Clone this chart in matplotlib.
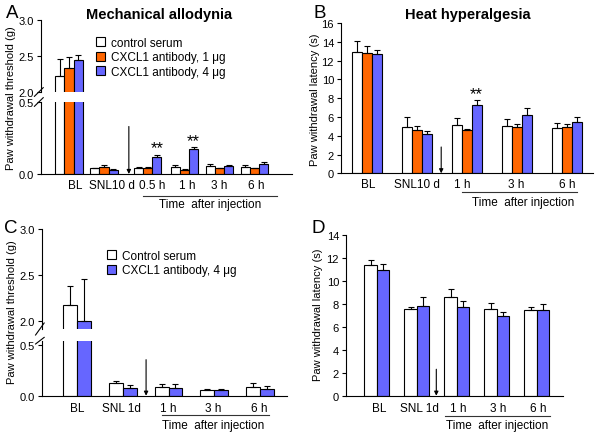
import numpy as np
import matplotlib
matplotlib.use("Agg")
import matplotlib.pyplot as plt

plt.rcParams['font.family'] = ['Liberation Sans', 'DejaVu Sans']
plt.rcParams['font.size'] = 8.5

W, H = 600, 435
WHITE, ORANGE, BLUE = 'white', '#FF6600', '#6666FF'

# ---- data ----
# A: mechanical allodynia (g)
a_groups = ['BL', 'SNL10 d', '0.5 h', '1 h', '3 h', '6 h']
a_ctrl = [2.22, 0.04, 0.04, 0.05, 0.055, 0.05]
a_ctrl_sem = [0.23, 0.005, 0.01, 0.01, 0.015, 0.01]
a_ab1 = [2.33, 0.05, 0.045, 0.03, 0.04, 0.04]
a_ab1_sem = [0.16, 0.01, 0.005, 0.005, 0.005, 0.005]
a_ab4 = [2.44, 0.03, 0.116, 0.171, 0.058, 0.068]
a_ab4_sem = [0.07, 0.004, 0.015, 0.014, 0.005, 0.012]

# B: heat hyperalgesia (s)
b_groups = ['BL', 'SNL10 d', '1 h', '3 h', '6 h']
b_ctrl = [12.9, 4.9, 5.1, 5.0, 4.85]
b_ctrl_sem = [1.2, 1.1, 0.75, 0.8, 0.5]
b_ab1 = [12.85, 4.6, 4.6, 4.95, 4.95]
b_ab1_sem = [0.75, 0.4, 0.15, 0.3, 0.35]
b_ab4 = [12.75, 4.15, 7.3, 6.25, 5.45]
b_ab4_sem = [0.4, 0.35, 0.45, 0.75, 0.5]

# C: mechanical, SNL 1d (g)
c_groups = ['BL', 'SNL 1d', '1 h', '3 h', '6 h']
c_ctrl = [2.175, 0.122, 0.086, 0.053, 0.086]
c_ctrl_sem = [0.2, 0.025, 0.025, 0.01, 0.035]
c_ab4 = [2.0, 0.076, 0.079, 0.059, 0.066]
c_ab4_sem = [0.46, 0.025, 0.04, 0.01, 0.03]

# D: heat, SNL 1d (s)
d_groups = ['BL', 'SNL 1d', '1 h', '3 h', '6 h']
d_ctrl = [11.35, 7.5, 8.6, 7.5, 7.45]
d_ctrl_sem = [0.45, 0.2, 0.7, 0.6, 0.3]
d_ab4 = [10.9, 7.8, 7.75, 6.9, 7.45]
d_ab4_sem = [0.55, 0.8, 0.45, 0.4, 0.55]


def rect(x0, ytop, x1, ybot):
    return [x0 / W, 1 - ybot / H, (x1 - x0) / W, (ybot - ytop) / H]


def ftext(x, y, s, **kw):
    fig.text(x / W, 1 - y / H, s, **kw)


def style(ax, bottom=True):
    for s in ['right', 'top', 'bottom']:
        ax.spines[s].set_visible(False)
    if bottom:
        ax.spines['bottom'].set_visible(True)
    ax.spines['left'].set_linewidth(0.8)
    ax.spines['bottom'].set_linewidth(0.8)
    ax.tick_params(axis='y', direction='out', length=3, width=0.8, pad=2, labelsize=8)
    ax.set_xticks([])


def bars(axs, pos, series, width):
    n = len(series)
    for k, (vals, sem, col) in enumerate(series):
        x = np.array(pos) + (k - (n - 1) / 2) * width
        for ax in axs:
            ax.bar(x, vals, width, color=col, edgecolor='black', linewidth=0.8, zorder=2)
            ax.errorbar(x, vals, yerr=[np.zeros(len(vals)), sem], fmt='none',
                        ecolor='black', elinewidth=0.8, capsize=2.4, capthick=0.8, zorder=3)


def break_marks(ax, y):
    d = 0.06
    ax.plot([-0.025, 0.01], [y - d, y + d], transform=ax.transAxes,
            color='black', lw=0.8, clip_on=False)


def group_labels(ax, pos, labels, ypix):
    for p, lab in zip(pos, labels):
        ax.annotate(lab, xy=(p, 1 - ypix / H), xycoords=('data', 'figure fraction'),
                    ha='center', va='center', annotation_clip=False)


def arrow(ax, x, ytop):
    ax.annotate('', xy=(x, 0), xytext=(x, ytop),
                arrowprops=dict(arrowstyle='-|>', color='black', lw=0.8,
                                mutation_scale=6, shrinkA=0, shrinkB=0), zorder=4)


def time_line(x0, x1, yline, xt, yt):
    fig.add_artist(plt.Line2D([x0 / W, x1 / W], [1 - yline / H] * 2, color='#333333', lw=0.8))
    ftext(xt, yt, 'Time  after injection', ha='center', va='center')


def legend(ax, colors, labels, xpix, ypix):
    ax.legend(
        handles=[plt.Rectangle((0, 0), 1, 1, fc=c, ec='black', lw=0.8) for c in colors],
        labels=labels, loc='upper left',
        bbox_to_anchor=(xpix / W, 1 - ypix / H), bbox_transform=fig.transFigure,
        frameon=False, handlelength=0.8, handleheight=0.8, handletextpad=0.45,
        labelspacing=0.2, borderpad=0, borderaxespad=0)


fig = plt.figure(figsize=(6, 4.35), dpi=100)
fmt = matplotlib.ticker.FormatStrFormatter('%.1f')

# ---------------- Panel A ----------------
a_pos = [0, 1, 2.25, 3.3, 4.3, 5.3]
a_x0, a_x1 = 40.7, 292
axA1 = fig.add_axes(rect(a_x0, 20.7, a_x1, 93))
axA2 = fig.add_axes(rect(a_x0, 103, a_x1, 175))
series = [(a_ctrl, a_ctrl_sem, WHITE), (a_ab1, a_ab1_sem, ORANGE), (a_ab4, a_ab4_sem, BLUE)]
bars([axA1, axA2], a_pos, series, 0.26)
axA1.set_ylim(2.0, 3.0)
axA1.set_yticks([2.0, 2.5, 3.0])
axA2.set_ylim(0, 0.5)
axA2.set_yticks([0.0, 0.5])
for ax in (axA1, axA2):
    ax.set_xlim((a_x0 - 69) / 35, (a_x1 - 69) / 35)
    ax.yaxis.set_major_formatter(fmt)
style(axA1, bottom=False)
style(axA2)
break_marks(axA1, 0.0)
break_marks(axA2, 1.0)
arrow(axA2, 1.71, 0.33)
axA2.text(a_pos[2] + 0.26, 0.128, '**', ha='center', va='bottom', fontsize=12)
axA2.text(a_pos[3] + 0.26, 0.183, '**', ha='center', va='bottom', fontsize=12)
group_labels(axA2, [0.19, 1.22, 2.38, 3.38, 4.3, 5.35], a_groups, 186)
time_line(143, 277, 197, 210, 205)
ftext(159, 15, 'Mechanical allodynia', ha='center', va='center', fontsize=10.5, fontweight='bold')
ftext(12, 14, 'A', ha='center', va='center', fontsize=13.5)
ftext(11, 98, 'Paw withdrawal threshold (g)', rotation=90, ha='center', va='center', fontsize=8)
legend(axA1, (WHITE, ORANGE, BLUE),
       ['control serum', 'CXCL1 antibody, 1 μg', 'CXCL1 antibody, 4 μg'], 96, 38)

# ---------------- Panel B ----------------
b_pos = [0, 1, 2, 3, 4]
b_x0, b_x1 = 341, 593
axB = fig.add_axes(rect(b_x0, 24, b_x1, 174.3))
series = [(b_ctrl, b_ctrl_sem, WHITE), (b_ab1, b_ab1_sem, ORANGE), (b_ab4, b_ab4_sem, BLUE)]
bars([axB], b_pos, series, 0.2)
axB.set_xlim((b_x0 - 366.7) / 50, (b_x1 - 366.7) / 50)
axB.set_ylim(0, 16)
axB.set_yticks(range(0, 17, 2))
style(axB)
arrow(axB, 1.49, 2.8)
axB.text(b_pos[2] + 0.2, 7.7, '**', ha='center', va='bottom', fontsize=12)
group_labels(axB, [0.03, 1.01, 1.91, 2.99, 4.01], b_groups, 185)
time_line(462, 577, 192.7, 522.7, 203)
ftext(468, 15, 'Heat hyperalgesia', ha='center', va='center', fontsize=10.5, fontweight='bold')
ftext(320, 14, 'B', ha='center', va='center', fontsize=13.5)
ftext(315, 100, 'Paw withdrawal latency (s)', rotation=90, ha='center', va='center', fontsize=8)

# ---------------- Panel C ----------------
c_pos = [0, 1, 2, 3, 4]
c_x0, c_x1 = 41.7, 287
c_unit = 45.75
axC1 = fig.add_axes(rect(c_x0, 230, c_x1, 330))
axC2 = fig.add_axes(rect(c_x0, 341.7, c_x1, 396.7))
series = [(c_ctrl, c_ctrl_sem, WHITE), (c_ab4, c_ab4_sem, BLUE)]
bars([axC1, axC2], c_pos, series, 0.306)
axC1.set_ylim(1.91, 3.0)
axC1.set_yticks([2.0, 2.5, 3.0])
axC2.set_ylim(0, 0.542)
axC2.set_yticks([0.0, 0.5])
for ax in (axC1, axC2):
    ax.set_xlim((c_x0 - 77) / c_unit, (c_x1 - 77) / c_unit)
    ax.yaxis.set_major_formatter(fmt)
style(axC1, bottom=False)
style(axC2)
break_marks(axC1, 0.0)
break_marks(axC2, 1.0)
arrow(axC2, 1.51, 0.355)
group_labels(axC2, [0.01, 0.97, 2.0, 2.98, 3.99], c_groups, 409)
time_line(162, 269, 416, 213, 426)
ftext(11, 229, 'C', ha='center', va='center', fontsize=13.5)
ftext(12, 312, 'Paw withdrawal threshold (g)', rotation=90, ha='center', va='center', fontsize=8)
legend(axC1, (WHITE, BLUE), ['Control serum', 'CXCL1 antibody, 4 μg'], 107, 251)

# ---------------- Panel D ----------------
d_pos = [0, 1, 2, 3, 4]
d_x0, d_x1 = 346, 563
axD = fig.add_axes(rect(d_x0, 235.7, d_x1, 396.7))
series = [(d_ctrl, d_ctrl_sem, WHITE), (d_ab4, d_ab4_sem, BLUE)]
bars([axD], d_pos, series, 0.31)
axD.set_xlim((d_x0 - 376.7) / 40, (d_x1 - 376.7) / 40)
axD.set_ylim(0, 14)
axD.set_yticks(range(0, 15, 2))
style(axD)
arrow(axD, 1.49, 2.3)
group_labels(axD, [0.06, 1.06, 2.04, 3.03, 4.03], d_groups, 409)
time_line(445, 550, 416.7, 497, 426)
ftext(318, 229, 'D', ha='center', va='center', fontsize=13.5)
ftext(318, 315, 'Paw withdrawal latency (s)', rotation=90, ha='center', va='center', fontsize=8)

fig.savefig('out.png', dpi=100)
